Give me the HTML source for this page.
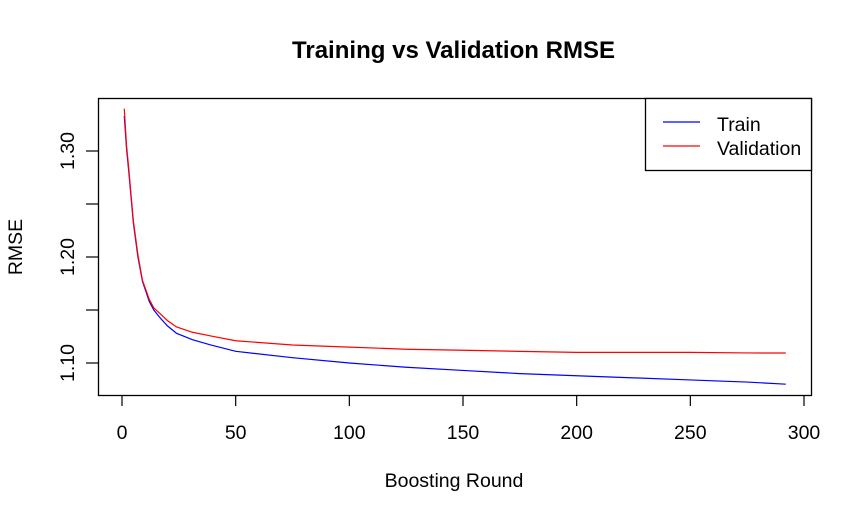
<!DOCTYPE html>
<html><head><meta charset="utf-8"><style>
body{margin:0;background:#fff;}
svg text{font-family:"Liberation Sans",Arial,sans-serif;fill:#000;}
</style></head><body>
<svg id="chart" width="862" height="518" viewBox="0 0 862 518">
<text x="453.5" y="58" text-anchor="middle" font-size="24" font-weight="bold" textLength="323" lengthAdjust="spacingAndGlyphs">Training vs Validation RMSE</text>
<rect x="98.5" y="98.5" width="713" height="297" fill="none" stroke="#000" stroke-width="1.3"/>
<g id="axes"></g>
<g id="series"></g>
<text x="454" y="487" text-anchor="middle" font-size="19.5">Boosting Round</text>
<text transform="translate(22,247) rotate(-90)" text-anchor="middle" font-size="19.5">RMSE</text>
<g>
<rect x="645.5" y="98.5" width="166" height="72" fill="#fff" stroke="#000" stroke-width="1.3"/>
<line x1="663" y1="122" x2="700" y2="122" stroke="#00f" stroke-width="1.2"/>
<text x="717" y="131" font-size="19.5">Train</text>
<line x1="663" y1="146" x2="700" y2="146" stroke="#f00" stroke-width="1.2"/>
<text x="717" y="155" font-size="19.5">Validation</text>
</g>
</svg>
<script>
const rounds = [1,2,3,4,5,7,9,12,14,17,20,24,31,39,50,75,100,125,150,175,200,225,250,275,292];
const trainRMSE = [1.333,1.302,1.280,1.256,1.232,1.200,1.177,1.158,1.150,1.142,1.135,1.128,1.122,1.117,1.111,1.105,1.100,1.096,1.093,1.090,1.088,1.086,1.084,1.082,1.080];
const validRMSE = [1.340,1.305,1.283,1.258,1.234,1.202,1.178,1.160,1.152,1.146,1.140,1.134,1.129,1.1255,1.121,1.117,1.115,1.113,1.112,1.111,1.110,1.110,1.110,1.1095,1.1094];
const xTicks = [0,50,100,150,200,250,300];
const yTicks = [1.10,1.15,1.20,1.25,1.30];
const yLabels = ["1.10","","1.20","","1.30"];
const ns="http://www.w3.org/2000/svg";
const X = v => 122 + v*(682/300);
const Y = v => 363 - (v-1.10)*1060;
const axes=document.getElementById('axes');
function mk(tag,attrs,parent){const e=document.createElementNS(ns,tag);for(const k in attrs)e.setAttribute(k,attrs[k]);parent.appendChild(e);return e;}
const xa=mk('g',{},axes);


xTicks.forEach(t=>{mk('line',{x1:X(t),x2:X(t),y1:396,y2:406,stroke:'#000','stroke-width':1.2},xa);
 const tx=mk('text',{x:X(t),y:439,'text-anchor':'middle','font-size':19.5},xa);tx.textContent=t;
 
 });
const ya=mk('g',{},axes);


yTicks.forEach((t,i)=>{mk('line',{x1:86,x2:98,y1:Y(t),y2:Y(t),stroke:'#000','stroke-width':1.2},ya);
 if(yLabels[i]){const tx=mk('text',{transform:`translate(74,${Y(t)}) rotate(-90)`,'text-anchor':'middle','font-size':19.5},ya);tx.textContent=yLabels[i];
 
 }});
const sg=document.getElementById('series');
function line(vals,color,name){const p=mk('polyline',{points:rounds.map((r,i)=>X(r)+','+Y(vals[i])).join(' '),fill:'none',stroke:color,'stroke-width':1.2},sg);
 
 }
line(trainRMSE,'#00f','train-line');
line(validRMSE,'#f00','validation-line');
</script>
</body></html>
